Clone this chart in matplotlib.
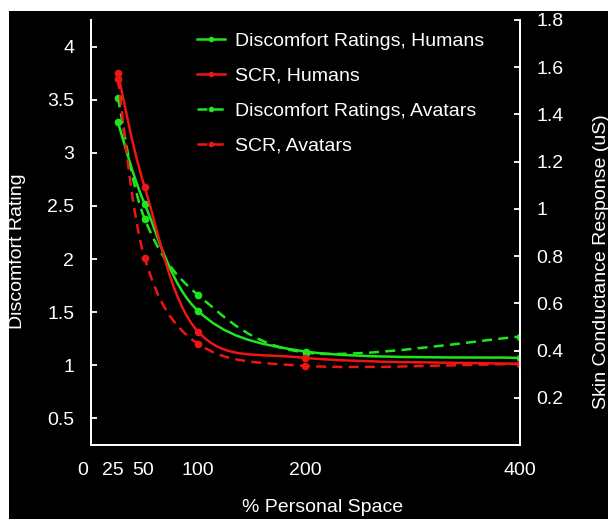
import numpy as np
import matplotlib
matplotlib.use("Agg")
import matplotlib.pyplot as plt
import matplotlib.transforms as mtransforms
from matplotlib.path import Path
from matplotlib.patches import PathPatch, Rectangle
from matplotlib.lines import Line2D

plt.rcParams['font.family'] = ['Liberation Sans', 'DejaVu Sans']

# % personal space
space = [25, 50, 100, 200, 400]
# discomfort ratings (left axis)
disc_humans = [3.29, 2.52, 1.51, 1.13, 1.07]
disc_avatars = [3.52, 2.38, 1.66, 1.12, 1.27]
# skin conductance response, uS (right axis)
scr_humans = [1.576, 1.093, 0.479, 0.369, 0.344]
scr_avatars = [1.55, 0.793, 0.428, 0.335, 0.344]

xticks = [0, 25, 50, 100, 200, 400]
left_ticks = [0.5, 1, 1.5, 2, 2.5, 3, 3.5, 4]
right_ticks = [0.2, 0.4, 0.6, 0.8, 1, 1.2, 1.4, 1.6, 1.8]

GREEN = '#1ee61e'
RED = '#f01414'
DASH = (0, (4, 2.5))
LW = 1.8
MS = 4.5
FS = 14


def smooth_path(xs, ys):
    # catmull-rom style bezier through the points (like a "smoothed line")
    pts = np.column_stack([xs, ys]).astype(float)
    verts = [pts[0]]
    codes = [Path.MOVETO]
    n = len(pts)
    for i in range(n - 1):
        p0 = pts[max(i - 1, 0)]
        p1 = pts[i]
        p2 = pts[i + 1]
        p3 = pts[min(i + 2, n - 1)]
        c1 = p1 + (p2 - p0) / 6.0
        c2 = p2 - (p3 - p1) / 6.0
        verts += [c1, c2, p2]
        codes += [Path.CURVE4] * 3
    return Path(verts, codes)


def draw(ax, xs, ys, color, ls):
    ax.add_patch(PathPatch(smooth_path(xs, ys), fill=False, ec=color, lw=LW,
                           ls=ls, capstyle='butt'))
    ax.plot(xs, ys, ls='none', marker='o', ms=MS, color=color)


fig = plt.figure(figsize=(6.08, 5.19), dpi=100)
fig.patch.set_facecolor('white')
fig.patches.append(Rectangle((9 / 608, 0), 1, 1 - 11 / 519, transform=fig.transFigure,
                             facecolor='black', edgecolor='none', zorder=-10))

ax = fig.add_axes([91 / 608, 1 - 445 / 519, (520 - 91) / 608, (445 - 20) / 519])
ax.set_facecolor('black')
ax2 = ax.twinx()
ax2.patch.set_visible(False)

draw(ax, space, disc_humans, GREEN, '-')
draw(ax, space, disc_avatars, GREEN, DASH)
draw(ax2, space, scr_humans, RED, '-')
draw(ax2, space, scr_avatars, RED, DASH)

ax.set_xlim(0, 400)
ax.set_ylim(0.25, 4.25)
ax2.set_ylim(0, 1.8)

ax.set_xticks(xticks)
ax.set_xticklabels([str(t) for t in xticks])
ax.set_yticks(left_ticks)
ax.set_yticklabels(['0.5', '1', '1.5', '2', '2.5', '3', '3.5', '4'])
ax2.set_yticks(right_ticks)
ax2.set_yticklabels(['0.2', '0.4', '0.6', '0.8', '1', '1.2', '1.4', '1.6', '1.8'])

for a in (ax, ax2):
    for side in ('left', 'right', 'bottom'):
        a.spines[side].set_color('white')
        a.spines[side].set_linewidth(1.3)
    a.spines['top'].set_visible(False)
    a.tick_params(colors='white', labelsize=FS, direction='in', length=4.5,
                  width=1.3, pad=12)
ax.tick_params(axis='x', length=0, pad=12)

# crowded labels near zero sit a bit to the left in the original
for tick, dx in zip(ax.xaxis.get_major_ticks()[:3], [-8, -5, -2]):
    lab = tick.label1
    lab.set_transform(lab.get_transform() +
                      mtransforms.ScaledTranslation(dx / 100, 0, fig.dpi_scale_trans))

fig.text(18 / 608, 1 - 251 / 519, 'Discomfort Rating', rotation=90, color='white',
         fontsize=FS, ha='center', va='center')
fig.text(323 / 608, 1 - 508 / 519, '% Personal Space', color='white',
         fontsize=FS, ha='center', va='center')
fig.text(601 / 608, 1 - 262 / 519, 'Skin Conductance Response (uS)', rotation=90,
         color='white', fontsize=FS, ha='center', va='center')

handles = [
    Line2D([], [], color=GREEN, lw=LW, marker='o', ms=3, markevery=[1]),
    Line2D([], [], color=RED, lw=LW, marker='o', ms=3, markevery=[1]),
    Line2D([], [], color=GREEN, lw=LW, ls=DASH, marker='o', ms=3, markevery=[1]),
    Line2D([], [], color=RED, lw=LW, ls=DASH, marker='o', ms=3, markevery=[1]),
]
labels = ['Discomfort Ratings, Humans', 'SCR, Humans',
          'Discomfort Ratings, Avatars', 'SCR, Avatars']
leg = ax2.legend(handles, labels, loc='upper left', frameon=False,
                 bbox_to_anchor=(197 / 608, 1 - 32 / 519), bbox_transform=fig.transFigure,
                 borderpad=0, borderaxespad=0, handlelength=1.45, handletextpad=0.5,
                 labelspacing=0.9, fontsize=FS)
for t in leg.get_texts():
    t.set_color('white')

fig.savefig('out.png', dpi=100, facecolor=fig.get_facecolor())
